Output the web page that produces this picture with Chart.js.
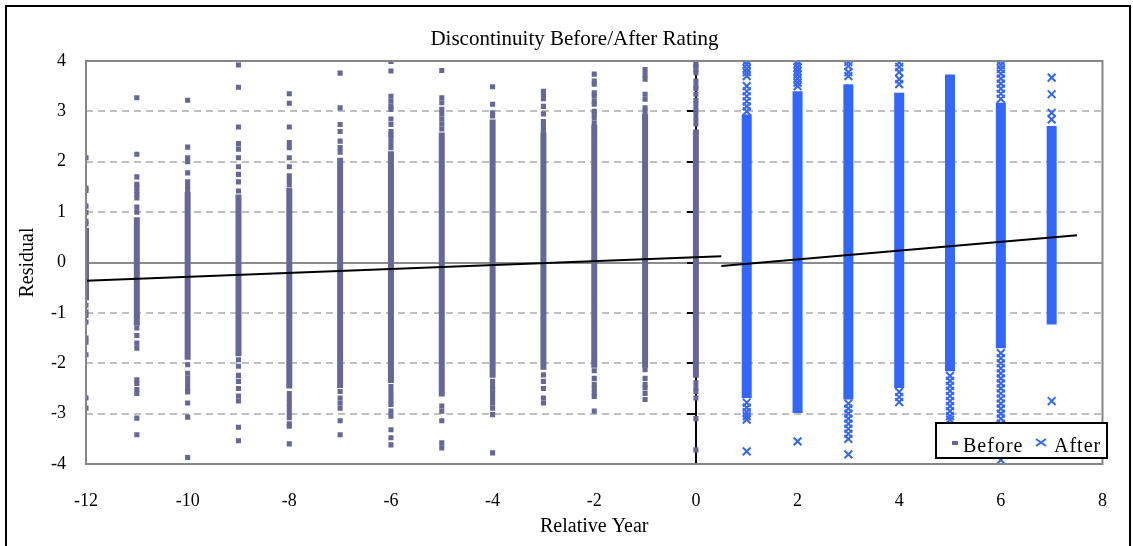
<!DOCTYPE html>
<html><head><meta charset="utf-8">
<script src="https://cdn.jsdelivr.net/npm/chart.js@4/dist/chart.umd.min.js"></script>
<style>html,body{margin:0;padding:0;background:#fff;}canvas{display:block;}</style>
</head><body>
<canvas id="c" width="1133" height="546"></canvas>
<script>
// ---------- data ----------
const titleText = 'Discontinuity Before/After Rating';
const xTitle = 'Relative Year';
const yTitle = 'Residual';
const seriesNames = ['Before', 'After'];
const xTickValues = [-12, -10, -8, -6, -4, -2, 0, 2, 4, 6, 8];
const yTickValues = [-4, -3, -2, -1, 0, 1, 2, 3, 4];

const beforeYears = [-12, -11, -10, -9, -8, -7, -6, -5, -4, -3, -2, -1, 0];
// dense (solid) part of each stripe
const beforeBandLow  = [-0.75, -1.25, -1.93, -1.86, -2.50, -2.49, -2.39, -2.66, -2.29, -2.13, -2.09, -2.09, -2.29];
const beforeBandHigh = [ 0.69,  0.90,  1.40,  1.35,  1.48,  2.08,  2.21,  2.58,  2.84,  2.58,  2.73,  2.95,  2.64];
// separate markers outside the dense part
const beforeOutliers = [
  [2.08, 1.48, 1.43, 1.12, 0.99, 0.82, 0.77, -0.85, -0.98, -1.05, -1.18, -1.50, -1.58, -1.83, -2.69, -2.89],
  [3.27, 2.15, 1.70, 1.55, 1.50, 1.42, 1.35, 1.28, 1.10, 1.00, -1.30, -1.45, -1.60, -1.70, -2.33, -2.40, -2.52, -2.60, -3.09, -3.42],
  [3.22, 2.29, 2.08, 2.00, 1.78, 1.60, 1.52, 1.45, -2.03, -2.20, -2.30, -2.40, -2.50, -2.57, -2.79, -3.07, -3.87],
  [3.92, 3.48, 2.69, 2.36, 2.25, 2.08, 1.90, 1.75, 1.60, 1.42, -1.93, -2.06, -2.24, -2.36, -2.50, -2.65, -2.75, -3.27, -3.54],
  [3.35, 3.16, 2.69, 2.38, 2.28, 2.08, 1.90, 1.72, 1.63, 1.54, -2.60, -2.70, -2.80, -2.88, -2.98, -3.08, -3.20, -3.25, -3.60],
  [3.76, 3.07, 2.74, 2.60, 2.41, 2.28, 2.19, -2.56, -2.69, -2.79, -2.89, -3.14, -3.42],
  [3.99, 3.80, 3.30, 3.20, 3.10, 3.04, 2.85, 2.74, 2.60, 2.54, 2.48, 2.38, 2.28, -2.46, -2.56, -2.66, -2.75, -2.82, -2.95, -3.05, -3.32, -3.48, -3.62],
  [3.81, 3.27, 3.17, 3.04, 2.95, 2.85, 2.75, 2.65, -2.85, -2.95, -3.14, -3.58, -3.68],
  [3.49, 3.14, 2.97, 2.91, -2.36, -2.46, -2.52, -2.60, -2.70, -2.79, -2.89, -3.02, -3.78],
  [3.40, 3.33, 3.25, 3.10, 2.95, 2.80, 2.74, 2.68, 2.61, -2.23, -2.36, -2.50, -2.69, -2.79],
  [3.74, 3.60, 3.54, 3.37, 3.30, 3.20, 3.14, 3.00, 2.94, 2.87, 2.77, -2.15, -2.30, -2.42, -2.50, -2.59, -2.66, -2.95],
  [3.83, 3.73, 3.64, 3.34, 3.24, 3.07, 3.00, -2.13, -2.30, -2.42, -2.49, -2.60, -2.72],
  [3.93, 3.90, 3.83, 3.77, 3.60, 3.50, 3.45, 3.34, 3.22, 3.15, 3.05, 2.95, 2.85, 2.75, -2.39, -2.49, -2.56, -2.69, -3.10, -3.72]
];

const afterYears = [1, 2, 3, 4, 5, 6, 7];
const afterBandLow  = [-2.69, -2.99, -2.72, -2.49, -2.16, -1.70, -1.23];
const afterBandHigh = [ 2.94,  3.40,  3.54,  3.37,  3.73,  3.17,  2.71];
const afterOutliers = [
  [4.00, 3.93, 3.85, 3.78, 3.70, 3.50, 3.40, 3.30, 3.20, 3.10, 3.00, -2.78, -2.88, -2.97, -3.05, -3.12, -3.75],
  [4.00, 3.94, 3.87, 3.80, 3.73, 3.65, 3.57, 3.50, -3.55],
  [3.98, 3.90, 3.78, 3.70, -2.80, -2.90, -3.00, -3.10, -3.20, -3.30, -3.40, -3.50, -3.81],
  [3.97, 3.88, 3.78, 3.64, 3.54, -2.57, -2.67, -2.77],
  [-2.25, -2.35, -2.45, -2.55, -2.65, -2.75, -2.85, -2.95, -3.05, -3.12],
  [4.00, 3.92, 3.84, 3.75, 3.65, 3.55, 3.45, 3.35, 3.25, -1.80, -1.90, -2.00, -2.10, -2.20, -2.30, -2.40, -2.50, -2.60, -2.70, -2.80, -2.90, -3.00, -3.10, -3.20, -3.30, -3.40, -3.50, -3.60, -3.70, -3.80, -3.92],
  [3.67, 3.34, 2.97, 2.84, -2.75]
];

// linear trend lines (end points)
const beforeTrendX = [-12, 0.5];
const beforeTrendY = [-0.36, 0.125];
const afterTrendX = [0.5, 7.5];
const afterTrendY = [-0.07, 0.54];

// ---------- build datasets ----------
const BEFORE_COLOR = '#666699';
const AFTER_COLOR = '#3366FF';
const SERIF = '"Liberation Serif", "Times New Roman", serif';

function bandData(years, lows, highs) {
  const d = [];
  years.forEach((yr, i) => {
    d.push({x: yr, y: lows[i]});
    d.push({x: yr, y: highs[i]});
    d.push({x: yr, y: null});
  });
  return d;
}
function pointData(years, lists) {
  const d = [];
  years.forEach((yr, i) => lists[i].forEach(v => d.push({x: yr, y: v})));
  return d;
}
function lineData(xs, ys) { return xs.map((x, i) => ({x: x, y: ys[i]})); }

const datasets = [
  {label: 'Before trend', type: 'line', data: lineData(beforeTrendX, beforeTrendY),
   borderColor: '#000', borderWidth: 2, pointRadius: 0, fill: false},
  {label: 'After trend', type: 'line', data: lineData(afterTrendX, afterTrendY),
   borderColor: '#000', borderWidth: 2, pointRadius: 0, fill: false},
  {label: seriesNames[1], type: 'scatter', data: pointData(afterYears, afterOutliers),
   pointStyle: 'crossRot', pointRadius: 5.5, borderColor: AFTER_COLOR, backgroundColor: AFTER_COLOR, borderWidth: 2},
  {label: seriesNames[1] + ' band', type: 'line', data: bandData(afterYears, afterBandLow, afterBandHigh),
   borderColor: AFTER_COLOR, borderWidth: 10, borderCapStyle: 'butt', pointRadius: 0, spanGaps: false, fill: false},
  {label: seriesNames[0], type: 'scatter', data: pointData(beforeYears, beforeOutliers),
   pointStyle: 'rect', pointRadius: 3.6, borderWidth: 0, backgroundColor: BEFORE_COLOR, borderColor: BEFORE_COLOR},
  {label: seriesNames[0] + ' band', type: 'line', data: bandData(beforeYears, beforeBandLow, beforeBandHigh),
   borderColor: BEFORE_COLOR, borderWidth: 6, borderCapStyle: 'butt', pointRadius: 0, spanGaps: false, fill: false}
];

// ---------- decorations drawn over the scales ----------
const framePlugin = {
  id: 'frame',
  beforeDatasetsDraw(chart) {
    const ctx = chart.ctx, a = chart.chartArea;
    const xs = chart.scales.x, ys = chart.scales.y;
    ctx.save();
    // horizontal axis line at y = 0
    const y0 = Math.round(ys.getPixelForValue(0));
    ctx.strokeStyle = '#8c8c8c';
    ctx.lineWidth = 2;
    ctx.beginPath(); ctx.moveTo(a.left, y0); ctx.lineTo(a.right, y0); ctx.stroke();
    // vertical axis line at x = 0 with tick marks
    const x0 = Math.round(xs.getPixelForValue(0));
    ctx.strokeStyle = '#000';
    ctx.beginPath(); ctx.moveTo(x0, a.top); ctx.lineTo(x0, a.bottom); ctx.stroke();
    yTickValues.forEach(v => {
      const py = Math.round(ys.getPixelForValue(v));
      ctx.beginPath(); ctx.moveTo(x0 - 9, py); ctx.lineTo(x0, py); ctx.stroke();
    });
    ctx.restore();
  },
  afterDatasetsDraw(chart) {
    const ctx = chart.ctx, a = chart.chartArea;
    ctx.save();
    ctx.strokeStyle = '#868686';
    ctx.lineWidth = 2;
    ctx.strokeRect(a.left, a.top, a.right - a.left, a.bottom - a.top);
    ctx.restore();
  },
  afterDraw(chart) {
    const ctx = chart.ctx;
    ctx.save();
    // outer frame
    ctx.strokeStyle = '#000';
    ctx.lineWidth = 2;
    ctx.strokeRect(6, 6, 1124, 600);
    // title
    ctx.fillStyle = '#000';
    ctx.font = '21px ' + SERIF;
    ctx.textAlign = 'center';
    ctx.textBaseline = 'alphabetic';
    ctx.fillText(titleText, 574.5, 45);
    // legend
    const lx = 936, ly = 423, lw = 171, lh = 35;
    ctx.fillStyle = '#fff';
    ctx.fillRect(lx, ly, lw, lh);
    ctx.strokeStyle = '#000';
    ctx.lineWidth = 2;
    ctx.strokeRect(lx, ly, lw, lh);
    ctx.fillStyle = BEFORE_COLOR;
    ctx.fillRect(952, 441, 6, 4);
    ctx.strokeStyle = AFTER_COLOR;
    ctx.lineWidth = 2;
    ctx.beginPath();
    ctx.moveTo(1036, 439); ctx.lineTo(1046, 446);
    ctx.moveTo(1046, 439); ctx.lineTo(1036, 446);
    ctx.stroke();
    ctx.fillStyle = '#000';
    ctx.font = '20px ' + SERIF;
    ctx.textAlign = 'left';
    if ('letterSpacing' in ctx) ctx.letterSpacing = '1px';
    ctx.fillText(seriesNames[0], 963, 452);
    ctx.fillText(seriesNames[1], 1054, 452);
    ctx.restore();
  }
};

new Chart(document.getElementById('c'), {
  type: 'scatter',
  data: {datasets: datasets},
  plugins: [framePlugin],
  options: {
    responsive: false,
    animation: false,
    events: [],
    devicePixelRatio: 1,
    layout: {padding: {top: 61, right: 21, left: 0, bottom: 0}},
    plugins: {legend: {display: false}, tooltip: {enabled: false}, title: {display: false}},
    scales: {
      x: {
        type: 'linear', position: 'bottom', min: -12, max: 8,
        afterBuildTicks: s => { s.ticks = xTickValues.map(v => ({value: v})); },
        afterFit: s => { s.height = 82; },
        grid: {display: false, drawTicks: false},
        border: {display: false},
        ticks: {color: '#000', font: {family: SERIF, size: 18}, padding: 26, maxRotation: 0, autoSkip: false,
                callback: v => String(v)},
        title: {display: true, text: xTitle, color: '#000', font: {family: SERIF, size: 20}, padding: {top: 0, bottom: 7}}
      },
      y: {
        type: 'linear', min: -4, max: 4,
        afterBuildTicks: s => { s.ticks = yTickValues.map(v => ({value: v})); },
        afterFit: s => { s.width = 86; },
        grid: {drawTicks: false, lineWidth: 2,
               color: c => (c.tick && (c.tick.value === 0 || Math.abs(c.tick.value) === 4)) ? 'rgba(0,0,0,0)' : '#c0c0c0'},
        border: {display: false, dash: [7, 5]},
        ticks: {color: '#000', font: {family: SERIF, size: 18}, padding: 20, callback: v => String(v)},
        title: {display: true, text: yTitle, color: '#000', font: {family: SERIF, size: 20}, padding: {top: 16, bottom: 0}}
      }
    }
  }
});
</script>
</body></html>
